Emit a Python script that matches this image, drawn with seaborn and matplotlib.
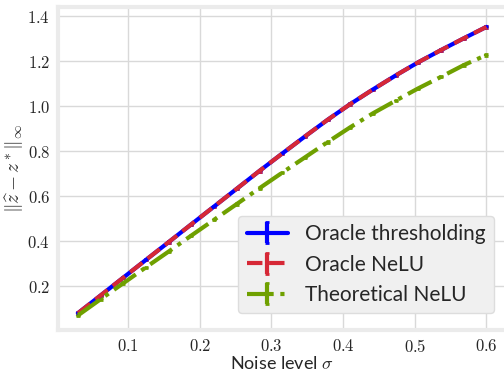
import matplotlib
matplotlib.use("Agg")
import matplotlib.pyplot as plt
import matplotlib.ticker as mticker
import seaborn as sns

sigma = [0.03, 0.0617, 0.0933, 0.125, 0.1567, 0.1883, 0.22, 0.2517, 0.2833, 0.315,
         0.3467, 0.3783, 0.41, 0.4417, 0.4733, 0.505, 0.5367, 0.5683, 0.6]
oracle_thr = [0.080, 0.159, 0.238, 0.317, 0.396, 0.475, 0.554, 0.633, 0.712, 0.789,
              0.865, 0.939, 1.009, 1.074, 1.136, 1.195, 1.249, 1.301, 1.352]
oracle_nelu = [0.080, 0.159, 0.238, 0.317, 0.396, 0.475, 0.554, 0.633, 0.712, 0.789,
               0.865, 0.939, 1.009, 1.074, 1.136, 1.195, 1.249, 1.301, 1.352]
theory_nelu = [0.070, 0.142, 0.213, 0.284, 0.354, 0.425, 0.495, 0.565, 0.635, 0.704,
               0.772, 0.840, 0.906, 0.968, 1.024, 1.079, 1.130, 1.182, 1.227]
err = [0.003] * len(sigma)

labels = ["Oracle thresholding", "Oracle NeLU", "Theoretical NeLU"]

sns.set_style("whitegrid")
plt.rcParams['font.family'] = ['Lato', 'DejaVu Sans']
plt.rcParams['mathtext.fontset'] = 'cm'

fig = plt.figure(figsize=(5.04, 3.71), dpi=100)
ax = fig.add_axes([0.115, 0.11, 0.89, 0.871])

ax.errorbar(sigma, oracle_thr, yerr=err, color='#0000ff', lw=3, ls='-',
            capsize=1.5, capthick=2, label=labels[0])
ax.errorbar(sigma, oracle_nelu, yerr=err, color='#d62836', lw=3, ls='--',
            capsize=1.5, capthick=2, label=labels[1])
ax.errorbar(sigma, theory_nelu, yerr=err, color='#6fa000', lw=3, ls='-.',
            capsize=1.5, capthick=2, label=labels[2])

ax.set_xlim(0.002, 0.628)
ax.set_ylim(0.004, 1.44)
ax.set_xticks([0.1, 0.2, 0.3, 0.4, 0.5, 0.6])
ax.set_yticks([0.2, 0.4, 0.6, 0.8, 1.0, 1.2, 1.4])
ax.xaxis.set_major_formatter(mticker.FormatStrFormatter('$%.1f$'))
ax.yaxis.set_major_formatter(mticker.FormatStrFormatter('$%.1f$'))
ax.tick_params(labelsize=12, pad=2)
ax.grid(color='#d9d9d9', lw=1)

for s in ax.spines.values():
    s.set_color('#ebebeb')
    s.set_linewidth(3)

ax.set_xlabel(r"Noise level $\sigma$", fontsize=13, labelpad=0)
ax.set_ylabel(r"$\|\widehat{z} - z^*\|_\infty$", fontsize=14, labelpad=1)

leg = ax.legend(loc='lower right', fontsize=15, frameon=True, fancybox=True,
                facecolor='#f0f0f0', edgecolor='#dddddd', framealpha=1,
                bbox_to_anchor=(0.995, 0.02), labelspacing=0.5)

fig.savefig("out.png", dpi=100)
